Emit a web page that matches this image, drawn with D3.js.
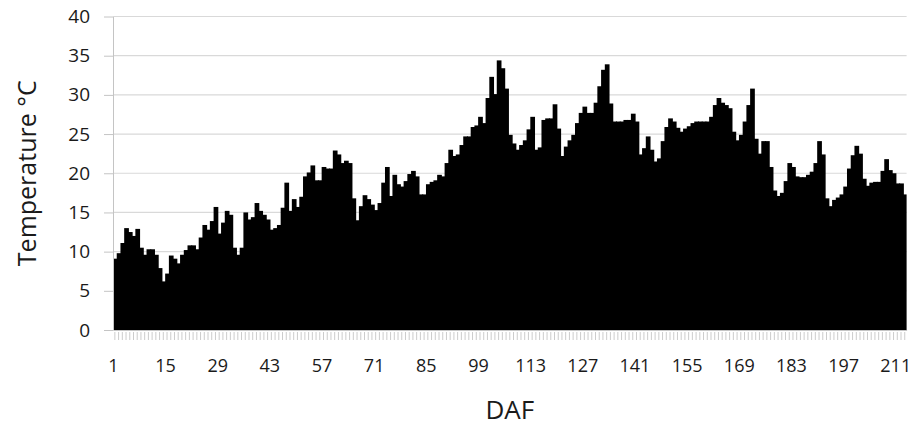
<!DOCTYPE html>
<html>
<head>
<meta charset="utf-8">
<script src="https://cdn.jsdelivr.net/npm/d3@7"></script>
<style>
  body { margin: 0; background: #fff; }
  svg { display: block; }
  text { font-family: "Open Sans", "Noto Sans", sans-serif; fill: #1a1a1a; }
</style>
</head>
<body>
<svg class="barChart" width="911" height="426"></svg>
<script>
// daily mean temperature, one value per day after flowering (DAF 1 .. 213)
const temps = [
  9.1, 9.8, 11.1, 13.0, 12.5, 12.0, 12.9, 10.5, 9.6, 10.3,
  10.3, 9.6, 7.9, 6.2, 7.2, 9.5, 9.1, 8.5, 9.6, 10.2,
  10.8, 10.8, 10.3, 11.8, 13.4, 12.8, 13.9, 15.7, 12.3, 13.7,
  15.2, 14.7, 10.5, 9.6, 10.5, 15.0, 14.1, 14.4, 16.2, 15.2,
  14.7, 14.1, 12.8, 13.0, 13.4, 15.6, 18.8, 15.2, 16.7, 15.7,
  17.0, 19.6, 20.1, 21.0, 19.1, 19.1, 20.8, 20.6, 20.6, 22.9,
  22.4, 21.3, 21.6, 21.3, 16.8, 14.0, 15.8, 17.2, 16.7, 16.0,
  15.3, 16.2, 18.8, 20.8, 17.1, 19.8, 18.6, 18.3, 19.0, 19.9,
  20.3, 19.6, 17.3, 17.3, 18.6, 18.9, 19.1, 19.8, 19.6, 21.3,
  23.0, 22.2, 22.4, 23.6, 24.7, 24.7, 25.9, 26.1, 27.2, 26.4,
  29.6, 32.3, 30.1, 34.4, 33.4, 30.8, 24.9, 23.8, 23.0, 23.6,
  24.2, 25.6, 27.2, 23.0, 23.3, 26.8, 27.0, 27.0, 28.8, 25.7,
  22.2, 23.4, 24.2, 24.9, 26.4, 27.7, 28.5, 27.7, 27.7, 29.0,
  31.1, 33.2, 33.9, 28.9, 26.6, 26.6, 26.6, 26.8, 26.8, 27.6,
  26.6, 22.4, 23.2, 24.7, 23.0, 21.5, 21.9, 24.1, 25.9, 27.0,
  26.6, 25.8, 25.3, 25.7, 26.0, 26.4, 26.6, 26.6, 26.6, 26.6,
  27.2, 28.7, 29.6, 29.0, 28.7, 28.3, 25.3, 24.2, 24.9, 26.6,
  28.7, 30.8, 24.4, 22.5, 24.1, 24.1, 20.8, 17.8, 17.1, 17.5,
  19.0, 21.3, 20.8, 19.6, 19.5, 19.5, 19.8, 20.2, 21.3, 24.1,
  22.4, 16.8, 15.8, 16.6, 16.9, 17.3, 18.3, 20.6, 22.3, 23.5,
  22.5, 19.3, 18.4, 18.8, 18.9, 18.9, 20.3, 21.8, 20.4, 20.0,
  18.7, 18.7, 17.3
];
const days = temps.map((d, i) => i + 1);
const xLabels = [1, 15, 29, 43, 57, 71, 85, 99, 113, 127, 141, 155, 169, 183, 197, 211];
const yTicks = [0, 5, 10, 15, 20, 25, 30, 35, 40];

let svg = d3.select('.barChart');
const MARGIN = {left: 113, right: 4.4, top: 16.5, bottom: 96};
const WIDTH = 911, HEIGHT = 426;

let xScale = d3.scaleBand()
    .domain(days)
    .range([MARGIN.left, WIDTH - MARGIN.right])
    .padding(0);
let yScale = d3.scaleLinear()
    .domain([0, 40])
    .range([HEIGHT - MARGIN.bottom, MARGIN.top]);

// horizontal gridlines
svg.append('g')
    .attr('id', 'grid')
    .selectAll('line')
    .data(yTicks.filter(d => d > 0))
    .join('line')
    .attr('x1', MARGIN.left)
    .attr('x2', WIDTH - MARGIN.right)
    .attr('y1', d => yScale(d))
    .attr('y2', d => yScale(d))
    .attr('stroke', '#d9d9d9')
    .attr('stroke-width', 1.2);

// bars, widened a little so neighbours overlap and leave no seams
svg.append('g')
    .attr('id', 'bars')
    .selectAll('rect')
    .data(temps)
    .join('rect')
    .attr('x', (d, i) => xScale(days[i]))
    .attr('width', (d, i) => i < temps.length - 1 ? xScale.bandwidth() + 1 : xScale.bandwidth())
    .attr('y', d => yScale(d))
    .attr('height', d => yScale(0) - yScale(d))
    .attr('fill', '#000');

// y axis
let yAxis = svg.append('g')
    .attr('id', 'y-axis')
    .attr('transform', `translate(${MARGIN.left},0)`)
    .call(d3.axisLeft(yScale)
        .tickValues(yTicks)
        .tickSize(9)
        .tickSizeOuter(0)
        .tickPadding(14));
yAxis.select('.domain').attr('stroke', '#c4c4c4');
yAxis.selectAll('.tick line').attr('stroke', '#c4c4c4');
yAxis.selectAll('.tick text')
    .attr('font-size', 19)
    .attr('font-family', '"Open Sans", sans-serif')
    .attr('fill', '#1a1a1a');

// x axis: a small grey tick per day, labels every 14 days
let xAxis = svg.append('g')
    .attr('id', 'x-axis')
    .attr('transform', `translate(0,${yScale(0)})`)
    .call(d3.axisBottom(xScale)
        .tickValues(days)
        .tickSize(10)
        .tickSizeOuter(0)
        .tickFormat(''));
xAxis.select('.domain').attr('stroke', '#c4c4c4');
xAxis.selectAll('.tick line')
    .attr('stroke', '#cccccc')
    .attr('y1', 2);

svg.append('g')
    .attr('id', 'x-labels')
    .selectAll('text')
    .data(xLabels)
    .join('text')
    .attr('x', d => xScale(d) + xScale.bandwidth() / 2 - 1.5)
    .attr('y', 372)
    .attr('text-anchor', 'middle')
    .attr('font-size', 18)
    .text(d => d);

// axis titles
svg.append('text')
    .attr('transform', `translate(26,${(yScale(0) + yScale(40)) / 2}) rotate(-90)`)
    .attr('text-anchor', 'middle')
    .attr('dominant-baseline', 'central')
    .attr('font-size', 25)
    .text('Temperature °C');

svg.append('text')
    .attr('x', (MARGIN.left + WIDTH - MARGIN.right) / 2)
    .attr('y', 419)
    .attr('text-anchor', 'middle')
    .attr('font-size', 26)
    .text('DAF');
</script>
</body>
</html>
